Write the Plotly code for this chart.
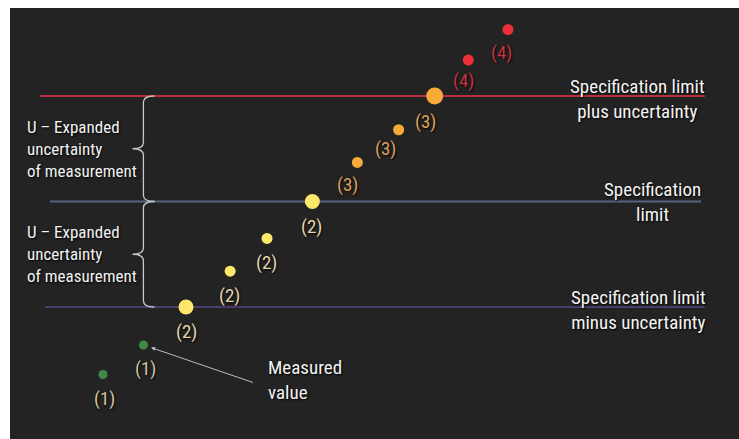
import plotly.graph_objects as go

# Measurement positions along the sequence and their values,
# expressed in units of the expanded uncertainty U relative to the specification limit.
sample_x = [1.0, 2.0, 3.05, 4.14, 5.05, 6.17, 7.28, 8.3, 9.19, 10.02, 11.0]
measured = [-1.64, -1.36, -1.0, -0.66, -0.35, 0.0, 0.37, 0.68, 1.0, 1.34, 1.63]
case = [1, 1, 2, 2, 2, 2, 3, 3, 3, 4, 4]
case_labels = ["(1)", "(1)", "(2)", "(2)", "(2)", "(2)", "(3)", "(3)", "(3)", "(4)", "(4)"]

# Reference levels
spec_limit = 0.0
expanded_u = 1.0
level_names = ["Specification limit<br>plus uncertainty",
               "Specification<br>limit",
               "Specification limit<br>minus uncertainty"]
levels = [spec_limit + expanded_u, spec_limit, spec_limit - expanded_u]

bracket_text = "U – Expanded<br>uncertainty<br>of measurement"
pointer_text = "Measured<br>value"

# Styling
BG = "#232323"
FONT = "Liberation Sans Narrow, Arial Narrow, Roboto Condensed, Liberation Sans, sans-serif"
SHADOW = "1px 1px 2px #000000"
dot_color = {1: "#3f8a4a", 2: "#fde86c", 3: "#f8aa3a", 4: "#ec2e3a"}
label_color = {1: "#cfc7a2", 2: "#e2d7ad", 3: "#dca25c", 4: "#c8343f"}
dot_size = [9, 9, 15, 11, 11, 15, 11, 11, 17, 11, 11]
label_dx = [2, 2, 0, -1, -1, -1, -10, -13, -9, -5, -6]
label_dy = [-24, -24, -24, -24, -24, -25, -22, -19, -26, -20, -23]
line_color = ["#b8303c", "#56647e", "#4a3c6c"]
line_span = [(0.041, 0.953), (0.055, 0.948), (0.048, 0.953)]
level_label_x = [0.861, 0.881, 0.862]
level_label_dy = [-3, 0, -3]

fig = go.Figure()

for y, c, span in zip(levels, line_color, line_span):
    fig.add_shape(type="line", xref="paper", yref="y", x0=span[0], x1=span[1],
                  y0=y, y1=y, line=dict(color=c, width=2), layer="below")

fig.add_trace(go.Scatter(
    x=sample_x, y=measured, mode="markers",
    marker=dict(size=dot_size, color=[dot_color[k] for k in case],
                opacity=1, line=dict(width=0)),
    hoverinfo="skip", showlegend=False,
))

for x, y, k, t, dx, dy in zip(sample_x, measured, case, case_labels, label_dx, label_dy):
    fig.add_annotation(x=x, y=y, text=t, showarrow=False, xshift=dx, yshift=dy,
                       font=dict(family=FONT, size=19, color=label_color[k], shadow=SHADOW))

# Level labels on the right
for y, name, lx, dy in zip(levels, level_names, level_label_x, level_label_dy):
    fig.add_annotation(xref="paper", x=lx, xanchor="center", y=y, text=name,
                       showarrow=False, yshift=dy, align="center",
                       font=dict(family=FONT, size=19, color="#f4f4f4", shadow=SHADOW))

# Curly braces spanning one expanded uncertainty each
spine, tip, end, d = 0.183, 0.168, 0.198, 0.06
for top, bot in [(levels[0], levels[1]), (levels[1], levels[2])]:
    mid = (top + bot) / 2
    path = (f"M {end},{top} Q {spine},{top} {spine},{top - d} "
            f"L {spine},{mid + d} Q {spine},{mid} {tip},{mid} "
            f"Q {spine},{mid} {spine},{mid - d} "
            f"L {spine},{bot + d} Q {spine},{bot} {end},{bot}")
    fig.add_shape(type="path", xref="paper", yref="y",
                  path=path, line=dict(color="#c8c8c8", width=1.3))
    fig.add_annotation(xref="paper", x=0.02, xanchor="left", y=mid, text=bracket_text,
                       showarrow=False, align="left",
                       font=dict(family=FONT, size=17, color="#f2f2f2", shadow=SHADOW))

# Pointer to a measured value
fig.add_annotation(x=sample_x[1], y=measured[1], ax=111, ay=38,
                   text="", showarrow=True, arrowhead=2, arrowsize=0.8, arrowwidth=1,
                   arrowcolor="#b8bcc8", standoff=8)
fig.add_annotation(xref="paper", x=0.351, xanchor="left", y=measured[0] - 0.05,
                   text=pointer_text, showarrow=False, align="left",
                   font=dict(family=FONT, size=19, color="#f2f2f2", shadow=SHADOW))

fig.update_layout(
    width=739, height=439,
    margin=dict(l=10, r=0, t=8, b=0),
    paper_bgcolor="#ffffff", plot_bgcolor=BG,
    xaxis=dict(range=[-1.296, 16.704], visible=False, fixedrange=True),
    yaxis=dict(range=[-2.251, 1.834], visible=False, fixedrange=True),
    showlegend=False,
)

fig.write_html("out.html")
